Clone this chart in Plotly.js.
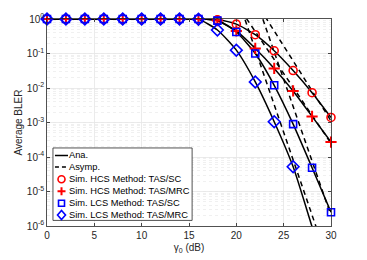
<!DOCTYPE html>
<html><head><meta charset="utf-8">
<script src="https://cdn.plot.ly/plotly-3.0.1.min.js"></script>
<style>html,body{margin:0;padding:0;background:#fff}#chart{width:367px;height:260px}</style>
</head><body><div id="chart"></div>
<script>
// SNR grid (dB)
const snr = [0,2,4,6,8,10,12,14,16,18,20,22,24,26,28,30];
// Simulation results
const hcsSC  = [1,1,1,1,1,1,1,1,1,0.95,0.71,0.35,0.12,0.032,0.0073,0.0014];
const hcsMRC = [1,1,1,1,1,1,1,1,1,0.9,0.45,0.14,0.037,0.0082,0.0015,0.00027];
const lcsSC  = [1,1,1,1,1,1,1,1,1,0.9,0.42,0.1,0.012,0.0009,0.000049,0.0000025];
const lcsMRC = [1,1,1,1,1,1,1,1,0.98,0.48,0.125,0.015,0.00105,0.000052,0.00000095,0.000000017];
// Analytical results (same grid)
const anaHcsSC  = hcsSC;
const anaHcsMRC = hcsMRC;
const anaLcsSC  = lcsSC;
const anaLcsMRC = lcsMRC;
// Asymptotic lines (two end points each)
const asymX = [20, 30];
const asymHcsSC  = [24.5, 0.00112];
const asymHcsMRC = [2.79, 0.00025];
const asymLcsSC  = [163, 0.000002];
const asymLcsMRC = [5.2, 0.000000052];
const yTickVals = [1e-6,1e-5,1e-4,1e-3,1e-2,1e-1,1];
const yTickText = ['10<sup>-6</sup>','10<sup>-5</sup>','10<sup>-4</sup>','10<sup>-3</sup>','10<sup>-2</sup>','10<sup>-1</sup>','10<sup>0</sup>'];
const xTickVals = [0,5,10,15,20,25,30];
const legendLabels = ['Ana.','Asymp.','Sim. HCS Method: TAS/SC','Sim. HCS Method: TAS/MRC','Sim. LCS Method: TAS/SC','Sim. LCS Method: TAS/MRC'];

const traces = [];
[anaHcsSC, anaHcsMRC, anaLcsSC, anaLcsMRC].forEach((v)=>{
  traces.push({x:snr, y:v, mode:'lines', line:{color:'#000', width:1.5, shape:'spline', smoothing:0.6},
    showlegend:false, hoverinfo:'skip'});
});
[asymHcsSC, asymHcsMRC, asymLcsSC, asymLcsMRC].forEach((v)=>{
  traces.push({x:asymX, y:v, mode:'lines', line:{color:'#000', width:1.5, dash:'5px,4px'}, showlegend:false});
});
const sims = [
  {y:hcsSC, color:'#ff0000', symbol:'circle-open', size:8, w:1.6},
  {y:hcsMRC, color:'#ff0000', symbol:'cross-thin-open', size:8, w:2},
  {y:lcsSC, color:'#0000ff', symbol:'square-open', size:7, w:1.6},
  {y:lcsMRC, color:'#0000ff', symbol:'diamond-open', size:9, w:1.6}
];
sims.forEach((s)=>{
  traces.push({x:snr, y:s.y, mode:'markers', showlegend:false, cliponaxis:false,
    marker:{symbol:s.symbol, size:s.size, color:s.color, line:{color:s.color, width:s.w}}});
});

// Hand-drawn legend (MATLAB-like compact legend)
const rowY = [0.3406,0.285,0.2256,0.1676,0.1097,0.0531];
const symX = 0.0511, txtX = 0.0745;
const shapes = [
  {type:'rect', xref:'paper', yref:'paper', x0:0.021, x1:0.511, y0:0.027, y1:0.377,
   fillcolor:'#fff', line:{color:'#262626', width:0.8}, layer:'above'},
  {type:'line', xref:'paper', yref:'paper', x0:0.028, x1:0.0739, y0:rowY[0], y1:rowY[0], line:{color:'#000', width:1.5}},
  {type:'line', xref:'paper', yref:'paper', x0:0.028, x1:0.0739, y0:rowY[1], y1:rowY[1], line:{color:'#000', width:1.5, dash:'4px,3px'}},
  {type:'circle', xref:'paper', yref:'paper', xsizemode:'pixel', ysizemode:'pixel', xanchor:symX, yanchor:rowY[2],
   x0:-3.5, x1:3.5, y0:-3.5, y1:3.5, line:{color:'#ff0000', width:1.6}},
  {type:'path', xref:'paper', yref:'paper', xsizemode:'pixel', ysizemode:'pixel', xanchor:symX, yanchor:rowY[3],
   path:'M-4,0H4M0,-4V4', line:{color:'#ff0000', width:2}},
  {type:'rect', xref:'paper', yref:'paper', xsizemode:'pixel', ysizemode:'pixel', xanchor:symX, yanchor:rowY[4],
   x0:-3, x1:3, y0:-3, y1:3, line:{color:'#0000ff', width:1.6}},
  {type:'path', xref:'paper', yref:'paper', xsizemode:'pixel', ysizemode:'pixel', xanchor:symX, yanchor:rowY[5],
   path:'M0,-4.5L4,0L0,4.5L-4,0Z', line:{color:'#0000ff', width:1.6}}
];
const annotations = legendLabels.map((t,i)=>({xref:'paper', yref:'paper', x:txtX, y:rowY[i],
  xanchor:'left', yanchor:'middle', text:t, showarrow:false, borderpad:0,
  font:{family:'"Liberation Sans", Arial, sans-serif', size:9.3, color:'#000'}}));

const font = {family:'"Liberation Sans", Arial, sans-serif', size:10, color:'#262626'};
const layout = {
  width:367, height:260,
  margin:{l:47, r:36, t:19, b:34},
  paper_bgcolor:'#fff', plot_bgcolor:'#fff',
  font:font, showlegend:false, shapes:shapes, annotations:annotations,
  xaxis:{range:[0,30], tickvals:xTickVals, ticks:'inside', ticklen:3,
    showline:true, mirror:'ticks', linecolor:'#262626', linewidth:0.8,
    showgrid:true, gridcolor:'#e6e6e6', gridwidth:0.8, zeroline:false,
    title:{text:'γ<sub>0</sub> (dB)', standoff:4, font:{family:font.family,size:10,color:'#262626'}}},
  yaxis:{type:'log', range:[-6,0], tickvals:yTickVals, ticktext:yTickText, ticks:'inside', ticklen:3,
    showline:true, mirror:'ticks', linecolor:'#262626', linewidth:0.8,
    showgrid:true, gridcolor:'#e6e6e6', gridwidth:0.8, zeroline:false,
    minor:{dtick:'D1', showgrid:true, gridcolor:'#ececec', griddash:'dot', gridwidth:0.8, ticks:''},
    title:{text:'Average BLER', standoff:2, font:{family:font.family,size:10,color:'#262626'}}}
};
Plotly.newPlot('chart', traces, layout, {staticPlot:true, displayModeBar:false});
</script></body></html>
